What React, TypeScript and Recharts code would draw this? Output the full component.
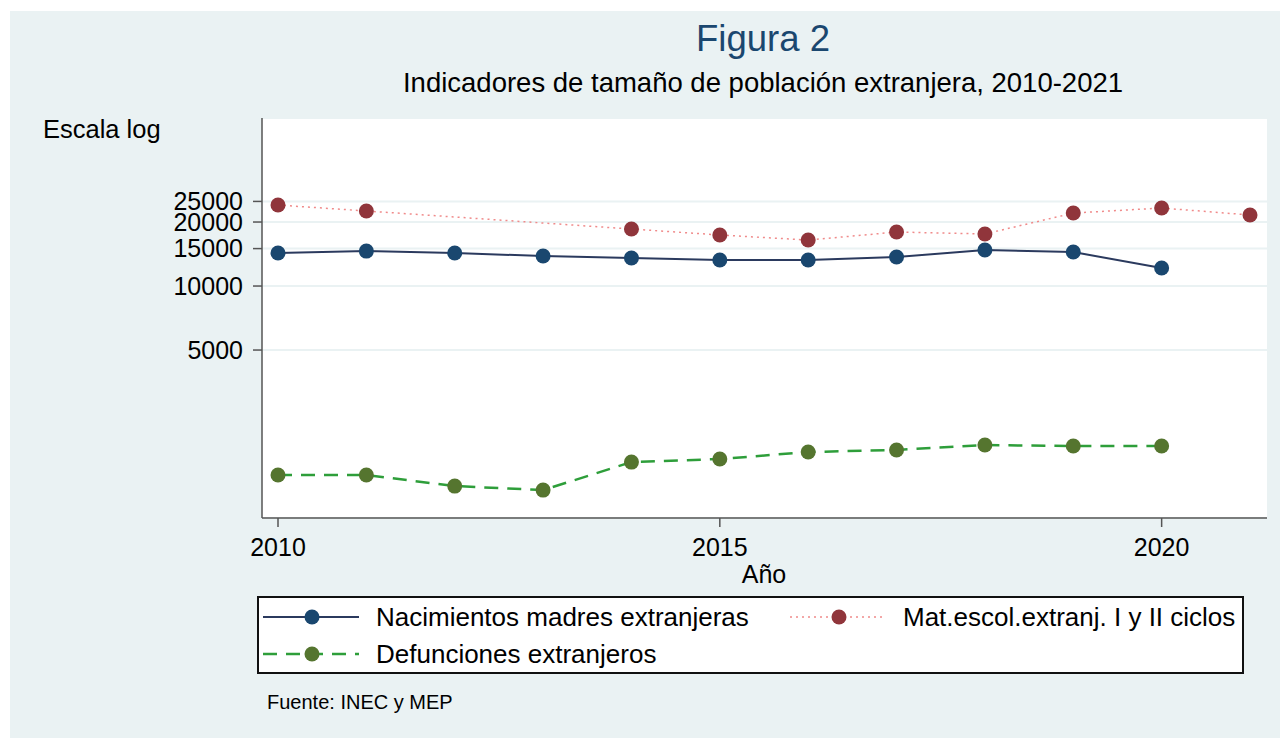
import React from 'react';
import { LineChart, Line, XAxis, YAxis, CartesianGrid } from 'recharts';

const years = [2010, 2011, 2012, 2013, 2014, 2015, 2016, 2017, 2018, 2019, 2020, 2021];
const nacimientos = [14300, 14600, 14300, 13840, 13540, 13250, 13250, 13690, 14770, 14450, 12150, null];
const matricula = [24040, 22540, null, null, 18540, 17380, 16450, 17950, 17570, 22040, 23280, 21580];
const defunciones = [1291, 1291, 1146, 1097, 1486, 1536, 1657, 1694, 1787, 1768, 1768, null];
const yTicks = [5000, 10000, 15000, 20000, 25000];
const xTicks = [2010, 2015, 2020];

const FONT = '"Liberation Sans", Arial, sans-serif';
const BG = '#eaf2f3';
const NAVY = '#1a476f';
const NAVY_LINE = '#2b3a5e';
const MAROON = '#90353b';
const SALMON = '#f08a8a';
const GREEN = '#55752f';
const GREEN_LINE = '#2e9e3a';

const data = years.map((y, i) => ({
  year: y,
  nac: nacimientos[i],
  mat: matricula[i],
  def: defunciones[i],
}));

const LegendRow = ({ x, y, stroke, dash, width, fill, label }: any) => (
  <g>
    <line x1={x} x2={x + 96} y1={y} y2={y} stroke={stroke} strokeWidth={width} strokeDasharray={dash} />
    <circle cx={x + 49} cy={y} r={7.5} fill={fill} />
    <text x={x + 113} y={y + 9} fontSize={26} fill="#000">{label}</text>
  </g>
);

export default function App() {
  return (
    <div style={{ position: 'absolute', left: 0, top: 0, width: 1280, height: 738, background: '#fff', fontFamily: FONT }}>
      <div style={{ position: 'absolute', left: 10, top: 11, width: 1270, height: 727, background: BG }} />
      <div style={{ position: 'absolute', left: 0, top: 0 }}>
        <LineChart width={1280} height={738} data={data} margin={{ top: 118, right: 13, bottom: 190, left: 0 }}>
          <CartesianGrid vertical={false} stroke={BG} strokeWidth={2} fill="#fff" />
          <XAxis
            dataKey="year"
            type="number"
            domain={[2010, 2021]}
            ticks={xTicks}
            padding={{ left: 16, right: 17 }}
            height={30}
            tickSize={9}
            tickMargin={11}
            stroke="#555"
            strokeWidth={1.5}
            interval={0}
            tick={{ fontSize: 25, fill: '#000', fontFamily: FONT }}
          />
          <YAxis
            scale="log"
            domain={[811, 61700]}
            allowDataOverflow
            ticks={yTicks}
            interval={0}
            width={262}
            tickSize={9}
            tickMargin={10}
            stroke="#555"
            strokeWidth={1.5}
            tick={{ fontSize: 25, fill: '#000', fontFamily: FONT }}
          />
          <Line
            dataKey="nac"
            stroke={NAVY_LINE}
            strokeWidth={2}
            dot={{ r: 7.5, fill: NAVY, stroke: 'none' }}
            isAnimationActive={false}
          />
          <Line
            dataKey="mat"
            stroke={SALMON}
            strokeWidth={1.5}
            strokeDasharray="2 4"
            connectNulls
            dot={{ r: 7.5, fill: MAROON, stroke: 'none' }}
            isAnimationActive={false}
          />
          <Line
            dataKey="def"
            stroke={GREEN_LINE}
            strokeWidth={2.5}
            strokeDasharray="14 9"
            dot={{ r: 7.5, fill: GREEN, stroke: 'none' }}
            isAnimationActive={false}
          />
        </LineChart>
      </div>
      <svg width={1280} height={738} style={{ position: 'absolute', left: 0, top: 0, pointerEvents: 'none', fontFamily: FONT }}>
        <text x={763} y={51} textAnchor="middle" fontSize={36.5} fill={NAVY}>Figura 2</text>
        <text x={763} y={92} textAnchor="middle" fontSize={27.5} fill="#000">Indicadores de tamaño de población extranjera, 2010-2021</text>
        <text x={43} y={138} fontSize={25.5} fill="#000">Escala log</text>
        <text x={764} y={583} textAnchor="middle" fontSize={25} fill="#000">Año</text>
        <rect x={258} y={597} width={985} height={76} fill="#fff" stroke="#111" strokeWidth={2} />
        <LegendRow x={263} y={617} stroke={NAVY_LINE} width={2} fill={NAVY} label="Nacimientos madres extranjeras" />
        <LegendRow x={790} y={617} stroke={SALMON} width={1.5} dash="2 4" fill={MAROON} label="Mat.escol.extranj. I y II ciclos" />
        <LegendRow x={263} y={654} stroke={GREEN_LINE} width={2.5} dash="14 9" fill={GREEN} label="Defunciones extranjeros" />
        <text x={267} y={709} fontSize={20} fill="#000">Fuente: INEC y MEP</text>
      </svg>
    </div>
  );
}
